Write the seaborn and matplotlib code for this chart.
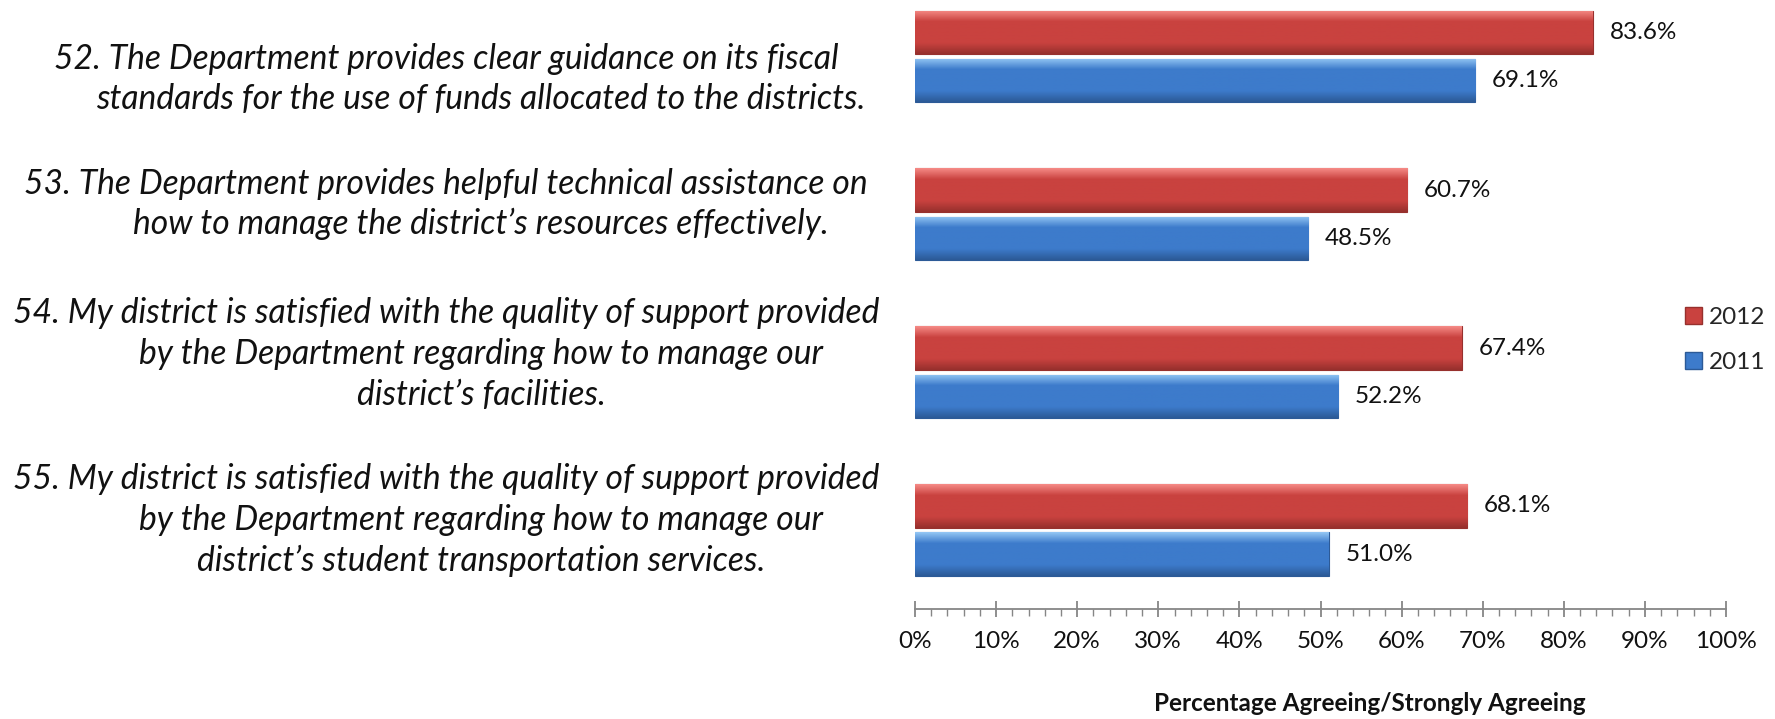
import numpy as np
import pandas as pd
import matplotlib
matplotlib.use("Agg")
import matplotlib.pyplot as plt
import seaborn as sns
from matplotlib import transforms
from matplotlib.patches import Patch
from matplotlib.colors import LinearSegmentedColormap

# survey items (each item split in its printed lines)
questions = [
    ["52. The Department provides clear guidance on its fiscal",
     "standards for the use of funds allocated to the districts."],
    ["53. The Department provides helpful technical assistance on",
     "how to manage the district\u2019s resources effectively."],
    ["54. My district is satisfied with the quality of support provided",
     "by the Department regarding how to manage our",
     "district\u2019s facilities."],
    ["55. My district is satisfied with the quality of support provided",
     "by the Department regarding how to manage our",
     "district\u2019s student transportation services."],
]
q_ids = ["52", "53", "54", "55"]
years = ["2012", "2011"]
pct_2012 = [83.6, 60.7, 67.4, 68.1]
pct_2011 = [69.1, 48.5, 52.2, 51.0]
x_ticks = [0, 10, 20, 30, 40, 50, 60, 70, 80, 90, 100]

df = pd.DataFrame({
    "q": q_ids * 2,
    "year": ["2012"] * 4 + ["2011"] * 4,
    "pct": pct_2012 + pct_2011,
})

# colours: (top highlight, body, bottom shade)
shades = {
    "2012": ("#F58A86", "#C9423F", "#97302D"),
    "2011": ("#93C6F4", "#3D7BCB", "#2C5A97"),
}

sns.set_theme(style="white")
plt.rcParams["font.family"] = ["Lato", "DejaVu Sans"]

fig = plt.figure(figsize=(17.75, 7.19), dpi=100)
ax = fig.add_axes([0.5155, 0.153, 0.4569, 0.8785])

sns.barplot(data=df, y="q", x="pct", hue="year", hue_order=years,
            palette={y: shades[y][1] for y in years}, orient="h",
            width=0.61, gap=0.1, ax=ax, legend=False, saturation=1)

# fake the 3d look: vertical gradient clipped to every bar
for cont, yr in zip(ax.containers, years):
    cmap = LinearSegmentedColormap.from_list(
        yr, [(0, shades[yr][0]), (0.25, shades[yr][1]),
             (0.75, shades[yr][1]), (1, shades[yr][2])])
    grad = np.linspace(0, 1, 64).reshape(-1, 1)
    for p in cont:
        x0, y0, w, h = p.get_x(), p.get_y(), p.get_width(), p.get_height()
        im = ax.imshow(grad, cmap=cmap, aspect="auto", origin="upper",
                       extent=(x0, x0 + w, y0 + h, y0), zorder=3)
        im.set_clip_path(p)
        p.set_edgecolor(shades[yr][2])
        p.set_linewidth(0.8)
    ax.bar_label(cont, labels=[f"{v:.1f}%" for v in cont.datavalues],
                 padding=12, fontsize=17.5, color="#111111")

ax.set_xlim(0, 100)
ax.set_ylim(3.5, -0.5)
ax.set_xticks(x_ticks)
ax.set_xticklabels([f"{t}%" for t in x_ticks], fontsize=17.5)
ax.set_xticks(np.arange(0, 101, 2), minor=True)
ax.set_yticks([])
ax.set_xlabel("")
ax.set_ylabel("")
for s in ["top", "right", "left"]:
    ax.spines[s].set_visible(False)
ax.spines["bottom"].set_color("#868686")
ax.spines["bottom"].set_linewidth(1.3)
ax.tick_params(axis="x", which="both", bottom=True)
ax.tick_params(axis="x", which="major", direction="inout", length=12,
               width=1.3, color="#868686", pad=10, labelcolor="#111111")
ax.tick_params(axis="x", which="minor", direction="out", length=5,
               width=1, color="#868686")

# item labels left of the bars
label_shift = [0.144, -0.065, -0.115, -0.065]
line_step = 29.3  # points
for k, lines in enumerate(questions):
    n = len(lines)
    for i, line in enumerate(lines):
        base = transforms.blended_transform_factory(fig.transFigure, ax.transData)
        tr = transforms.offset_copy(base, fig=fig, x=0,
                                    y=-(i - (n - 1) / 2) * line_step, units="points")
        xf = 0.2513 if i == 0 else 0.271
        fig.text(xf, k + label_shift[k], line, transform=tr, ha="center",
                 va="center", fontsize=24.2, style="italic", color="#111111")

fig.text(0.772, 0.021, "Percentage Agreeing/Strongly Agreeing",
         ha="center", va="center", fontsize=17.5, fontweight="bold", color="#111111")

handles = [Patch(facecolor=shades[y][1], edgecolor=shades[y][2], label=y) for y in years]
fig.legend(handles=handles, loc="center left", bbox_to_anchor=(0.937, 0.527),
           frameon=False, fontsize=17.5, handlelength=0.7, handleheight=0.7,
           handletextpad=0.3, labelspacing=1.0)

fig.savefig("out.png", dpi=100)
